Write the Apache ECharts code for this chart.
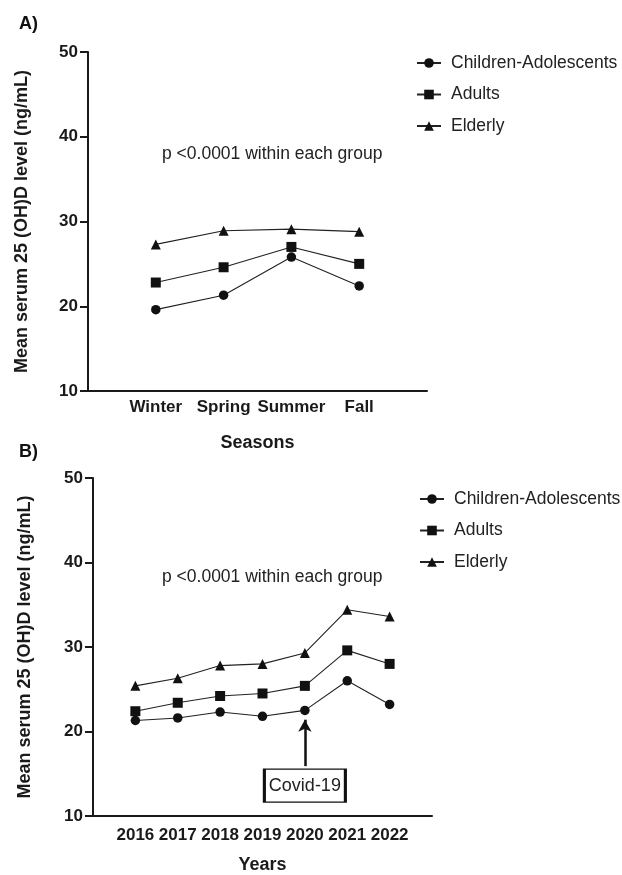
<!DOCTYPE html>
<html>
<head>
<meta charset="utf-8">
<script src="https://cdn.jsdelivr.net/npm/echarts@6/dist/echarts.min.js"></script>
<style>html,body{margin:0;padding:0;background:#fff}#c{width:622px;height:875px}</style>
</head>
<body>
<div id="c"></div>
<script>
var seasons = ['Winter', 'Spring', 'Summer', 'Fall'];
var seasonChildren = [19.6, 21.3, 25.8, 22.4];
var seasonAdults = [22.8, 24.6, 27.0, 25.0];
var seasonElderly = [27.3, 28.9, 29.1, 28.8];

var years = [2016, 2017, 2018, 2019, 2020, 2021, 2022];
var yearChildren = [21.3, 21.6, 22.3, 21.8, 22.5, 26.0, 23.2];
var yearAdults = [22.4, 23.4, 24.2, 24.5, 25.4, 29.6, 28.0];
var yearElderly = [25.4, 26.3, 27.8, 28.0, 29.3, 34.4, 33.6];

var yTicks = [10, 20, 30, 40, 50];
var groupNames = ['Children-Adolescents', 'Adults', 'Elderly'];
var symbols = ['circle', 'rect', 'triangle'];
var symbolSizes = [9.5, 10, 10];

var FONT = 'Liberation Sans, Arial, sans-serif';
var chart = echarts.init(document.getElementById('c'), null, {renderer: 'canvas'});

function pairsSeason(arr) { return arr.map(function (v, i) { return [i + 1, v]; }); }
function pairsYear(arr) { return arr.map(function (v, i) { return [years[i], v]; }); }

function yAxis(gi, gap) {
  return {
    type: 'value', gridIndex: gi, min: yTicks[0], max: yTicks[yTicks.length - 1], interval: 10,
    name: 'Mean serum 25 (OH)D level (ng/mL)', nameLocation: 'middle', nameGap: gap,
    nameTextStyle: {fontFamily: FONT, fontWeight: 'bold', fontSize: 18, color: '#1a1a1a'},
    axisLine: {show: true, lineStyle: {color: '#1a1a1a', width: 2}},
    axisTick: {show: true, length: 8, lineStyle: {color: '#1a1a1a', width: 2}},
    axisLabel: {fontFamily: FONT, fontWeight: 'bold', fontSize: 17, color: '#1a1a1a', margin: 10},
    splitLine: {show: false}
  };
}

var series = [];
var sData = [seasonChildren, seasonAdults, seasonElderly];
var yData = [yearChildren, yearAdults, yearElderly];
for (var k = 0; k < 3; k++) {
  series.push({
    name: groupNames[k], type: 'line', xAxisIndex: 0, yAxisIndex: 0,
    data: pairsSeason(sData[k]), symbol: symbols[k], symbolSize: symbolSizes[k],
    itemStyle: {color: '#111'}, lineStyle: {color: '#222', width: 1.1}, z: 3 + k
  });
}
for (var k2 = 0; k2 < 3; k2++) {
  var s = {
    name: groupNames[k2], type: 'line', xAxisIndex: 1, yAxisIndex: 1,
    data: pairsYear(yData[k2]), symbol: symbols[k2], symbolSize: symbolSizes[k2],
    itemStyle: {color: '#111'}, lineStyle: {color: '#222', width: 1.1}, z: 3 + k2
  };
  if (k2 === 0) {
    s.markLine = {
      silent: true, symbol: ['none', 'arrow'], symbolSize: [10, 12],
      lineStyle: {color: '#111', width: 2.5, type: 'solid'}, label: {show: false},
      data: [[{coord: [2020, 15.9]}, {coord: [2020, 21.4]}]]
    };
    s.markPoint = {
      silent: true, symbol: 'rect', symbolSize: [81, 33],
      itemStyle: {color: '#fff', borderColor: '#111', borderWidth: 2},
      label: {show: true, position: 'inside', formatter: 'Covid-19', fontFamily: FONT, fontSize: 18, color: '#222'},
      data: [{coord: [2020, 13.6]}]
    };
  }
  series.push(s);
}

var legendCommon = {
  orient: 'vertical', data: groupNames, itemWidth: 24, itemHeight: 12, itemGap: 13.5,
  textStyle: {fontFamily: FONT, fontSize: 17.5, color: '#222', padding: [0, 0, 0, 5]},
  inactiveColor: '#111', selectedMode: false
};

chart.setOption({
  animation: false,
  backgroundColor: '#fff',
  grid: [
    {left: 88, top: 52, width: 339, height: 339},
    {left: 93, top: 478, width: 339, height: 340}
  ],
  xAxis: [
    {
      type: 'value', gridIndex: 0, min: 0, max: seasons.length + 1, interval: 1,
      name: 'Seasons', nameLocation: 'middle', nameGap: 43,
      nameTextStyle: {fontFamily: FONT, fontWeight: 'bold', fontSize: 18, color: '#1a1a1a'},
      axisLine: {show: true, lineStyle: {color: '#1a1a1a', width: 2}},
      axisTick: {show: false}, splitLine: {show: false},
      axisLabel: {fontFamily: FONT, fontWeight: 'bold', fontSize: 17, color: '#1a1a1a', margin: 8,
        formatter: function (v) { return seasons[v - 1] || ''; }}
    },
    {
      type: 'value', gridIndex: 1, min: years[0] - 1, max: years[years.length - 1] + 1, interval: 1,
      name: 'Years', nameLocation: 'middle', nameGap: 40,
      nameTextStyle: {fontFamily: FONT, fontWeight: 'bold', fontSize: 18, color: '#1a1a1a'},
      axisLine: {show: true, lineStyle: {color: '#1a1a1a', width: 2}},
      axisTick: {show: false}, splitLine: {show: false},
      axisLabel: {fontFamily: FONT, fontWeight: 'bold', fontSize: 17, color: '#1a1a1a', margin: 11,
        formatter: function (v) { return years.indexOf(v) >= 0 ? String(v) : ''; }}
    }
  ],
  yAxis: [yAxis(0, 57), yAxis(1, 59)],
  legend: [
    Object.assign({left: 411, top: 49}, legendCommon),
    Object.assign({left: 414, top: 485}, legendCommon)
  ],
  graphic: [
    {type: 'text', left: 19, top: 15, style: {text: 'A)', font: 'bold 18px ' + FONT, fill: '#111'}},
    {type: 'text', left: 19, top: 443, style: {text: 'B)', font: 'bold 18px ' + FONT, fill: '#111'}},
    {type: 'text', left: 162, top: 145, style: {text: 'p <0.0001 within each group', font: '17.5px ' + FONT, fill: '#222'}},
    {type: 'text', left: 162, top: 568, style: {text: 'p <0.0001 within each group', font: '17.5px ' + FONT, fill: '#222'}}
  ],
  series: series
});
</script>
</body>
</html>
